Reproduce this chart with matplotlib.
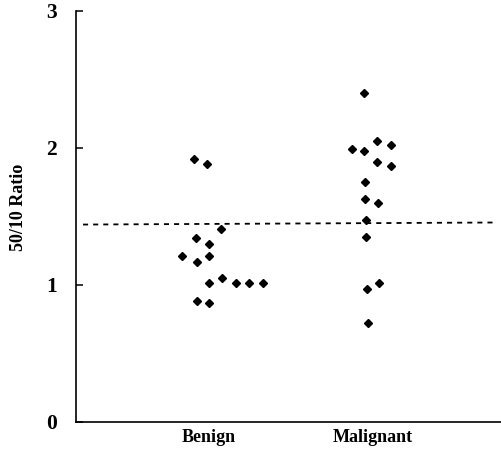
import matplotlib
matplotlib.use("Agg")
import matplotlib.pyplot as plt

# groups and read-off values
groups = ["Benign", "Malignant"]

benign_ratio = [1.92, 1.88, 1.41, 1.34, 1.30, 1.21, 1.17, 1.21, 1.05,
                1.01, 1.01, 1.01, 1.01, 0.88, 0.87]
benign_jitter = [-0.090, -0.010, 0.072, -0.081, 0.0, -0.167, -0.075, 0.0,
                 0.078, 0.002, 0.167, 0.243, 0.330, -0.072, 0.002]

malignant_ratio = [2.40, 2.05, 2.02, 1.99, 1.98, 1.90, 1.87, 1.75, 1.63,
                   1.60, 1.47, 1.35, 0.97, 1.01, 0.72]
malignant_jitter = [-0.054, 0.026, 0.113, -0.127, -0.050, 0.028, 0.115,
                    -0.048, -0.046, 0.032, -0.040, -0.040, -0.034, 0.042, -0.029]

cutoff = [1.44, 1.455]   # dashed reference line, left/right end
yticks = [0, 1, 2, 3]

plt.rcParams['font.family'] = ['Liberation Serif', 'DejaVu Serif']
plt.rcParams['font.weight'] = 'bold'

fig = plt.figure(figsize=(5.02, 4.5), dpi=100)
ax = fig.add_axes([0.1514, 0.0629, 0.847, 0.9127])

ax.plot([1 + j for j in benign_jitter], benign_ratio, linestyle='none',
        marker='D', markersize=4, color='black')
ax.plot([2 + j for j in malignant_jitter], malignant_ratio, linestyle='none',
        marker='D', markersize=4, color='black')

ax.plot([0.23, 2.76], cutoff, color='black', linewidth=1.3, dashes=(2.8, 2.8))

ax.set_xlim(0.187, 2.786)
ax.set_ylim(0, 3)
ax.set_yticks(yticks)
ax.set_yticklabels([str(t) for t in yticks], fontsize=15.5, fontweight='bold')
ax.set_xticks([1, 2])
ax.set_xticklabels(groups, fontsize=13, fontweight='bold')

ax.tick_params(axis='y', direction='in', length=5, width=1.1, pad=14)
ax.tick_params(axis='x', length=0, pad=5)

ax.spines['top'].set_visible(False)
ax.spines['right'].set_visible(False)
ax.spines['left'].set_linewidth(1.2)
ax.spines['bottom'].set_linewidth(1.2)

ax.set_ylabel('50/10 Ratio', fontsize=13, fontweight='bold')
ax.yaxis.set_label_coords(-0.115, 0.523)

fig.savefig("out.png", dpi=100)
